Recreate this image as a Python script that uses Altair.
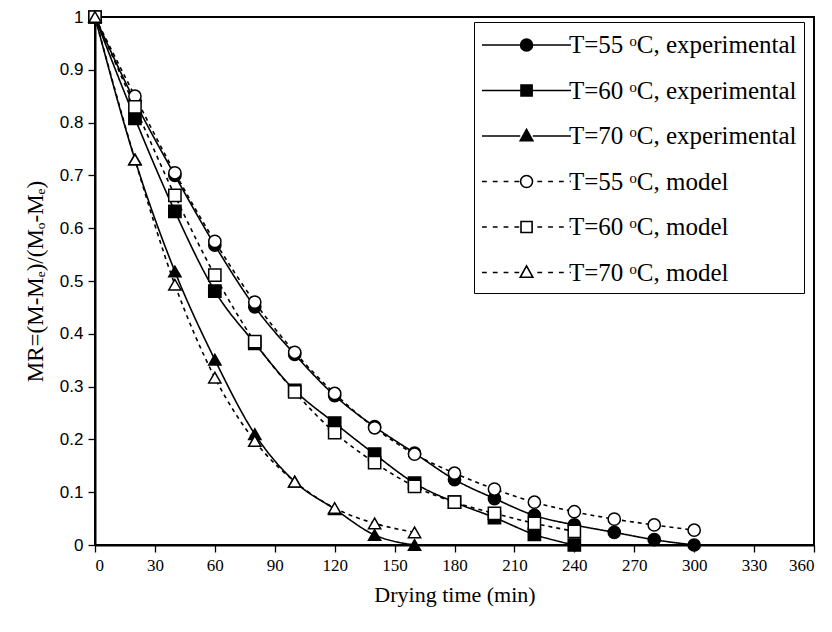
import altair as alt
import pandas as pd

t55 = [0, 20, 40, 60, 80, 100, 120, 140, 160, 180, 200, 220, 240, 260, 280, 300]
exp55 = [1, 0.84, 0.70, 0.568, 0.451, 0.361, 0.283, 0.224, 0.174, 0.124, 0.088, 0.056, 0.038, 0.024, 0.010, 0.0]
mod55 = [1, 0.85, 0.705, 0.575, 0.46, 0.365, 0.287, 0.222, 0.172, 0.136, 0.106, 0.081, 0.063, 0.049, 0.038, 0.028]

t60 = [0, 20, 40, 60, 80, 100, 120, 140, 160, 180, 200, 220, 240]
exp60 = [1, 0.808, 0.632, 0.481, 0.382, 0.293, 0.231, 0.172, 0.117, 0.081, 0.052, 0.020, 0.0]
mod60 = [1, 0.83, 0.662, 0.511, 0.385, 0.29, 0.213, 0.156, 0.111, 0.081, 0.060, 0.041, 0.026]

t70 = [0, 20, 40, 60, 80, 100, 120, 140, 160]
exp70 = [1, 0.73, 0.518, 0.351, 0.21, 0.12, 0.068, 0.019, 0.0]
mod70 = [1, 0.73, 0.493, 0.317, 0.197, 0.12, 0.07, 0.041, 0.024]

labels = [
    "T=55 ᵒC, experimental",
    "T=60 ᵒC, experimental",
    "T=70 ᵒC, experimental",
    "T=55 ᵒC, model",
    "T=60 ᵒC, model",
    "T=70 ᵒC, model",
]
kinds = ["exp", "exp", "exp", "model", "model", "model"]
series_t = [t55, t60, t70, t55, t60, t70]
series_v = [exp55, exp60, exp70, mod55, mod60, mod70]

rows = []
for lab, kind, ts, vs in zip(labels, kinds, series_t, series_v):
    for t, v in zip(ts, vs):
        rows.append({"time": t, "mr": v, "series": lab, "kind": kind, "legend": lab})
df = pd.DataFrame(rows)

# legend symbols: line + marker as custom paths (1 unit = 15 px)
X0, X1, C = -1.0, 4.93, 1.97   # line start, line end, marker centre
R = 0.42
def solid(marker):
    return f"M{X0},0H{C-R:.2f}M{C+R:.2f},0H{X1}" + marker
def dashed(marker):
    segs = ""
    x = X0
    while x < C - R - 0.2:
        segs += f"M{x:.2f},0H{x+0.32:.2f}"
        x += 0.72
    x = C + R + 0.3
    while x < X1:
        segs += f"M{x:.2f},0H{min(x+0.32, X1):.2f}"
        x += 0.72
    return segs + marker
circle = f"M{C+0.4:.2f},0A0.4,0.4 0 1 1 {C-0.4:.2f},0A0.4,0.4 0 1 1 {C+0.4:.2f},0Z"
square = f"M{C-0.37:.2f},-0.37H{C+0.37:.2f}V0.37H{C-0.37:.2f}Z"
tri = f"M{C:.2f},-0.44L{C+0.42:.2f},0.32H{C-0.42:.2f}Z"
legend_paths = [solid(circle), solid(square), solid(tri), dashed(circle), dashed(square), dashed(tri)]

fills = ["black", "black", "black", "white", "white", "white"]
strokes = ["black"] * 6
shapes = ["circle", "square", "triangle-up", "circle", "square", "triangle-up"]

serif = "Liberation Serif, DejaVu Serif, serif"

x_enc = alt.X("time:Q", scale=alt.Scale(domain=[0, 360], nice=False),
              axis=alt.Axis(values=list(range(0, 361, 30)), title="Drying time (min)"))
y_vals = [round(i / 10, 1) for i in range(11)]
y_enc = alt.Y("mr:Q", scale=alt.Scale(domain=[0, 1], nice=False),
              axis=alt.Axis(values=y_vals, format=".1~f", title="MR=(M-Mₑ)/(Mₒ-Mₑ)",
                            labelFont="Liberation Sans, Arial, sans-serif", labelFontSize=17))

lines = alt.Chart(df).mark_line(color="black", strokeWidth=1.6, interpolate="monotone").encode(
    x=x_enc, y=y_enc,
    detail="series:N",
    strokeDash=alt.StrokeDash("kind:N", scale=alt.Scale(domain=["exp", "model"], range=[[1, 0], [4, 4]]), legend=None),
)

points = alt.Chart(df).mark_point(size=150, stroke="black", strokeWidth=1.5, opacity=1, filled=False).encode(
    x="time:Q", y="mr:Q",
    shape=alt.Shape("series:N", scale=alt.Scale(domain=labels, range=shapes), legend=None),
    fill=alt.Fill("series:N", scale=alt.Scale(domain=labels, range=fills), legend=None),
)

def legend_def():
    return alt.Legend(title=None, orient="none", legendX=379, legendY=5,
                      symbolSize=900, symbolStrokeWidth=1.6,
                      symbolOpacity=1, labelFont=serif, labelFontSize=25,
                      labelColor="black", labelOffset=56, rowPadding=16.5,
                      padding=7, strokeColor="black", fillColor="white",
                      labelLimit=400)

leg = alt.Chart(df).mark_point(size=900, strokeWidth=1.6, opacity=0, filled=False).encode(
    x="time:Q", y="mr:Q",
    shape=alt.Shape("legend:N", scale=alt.Scale(domain=labels, range=legend_paths), legend=legend_def()),
    fill=alt.Fill("legend:N", scale=alt.Scale(domain=labels, range=fills), legend=legend_def()),
    stroke=alt.Stroke("legend:N", scale=alt.Scale(domain=labels, range=strokes), legend=legend_def()),
)

chart = alt.layer(lines, points, leg).resolve_scale(
    shape="independent", fill="independent", stroke="independent"
).properties(
    width=719, height=528,
    autosize=alt.AutoSizeParams(type="none"),
    padding={"left": 87, "top": 9, "right": 10, "bottom": 70},
).configure_view(
    stroke="black", strokeWidth=2
).configure_axis(
    domainColor="black", domainWidth=2, tickColor="black", tickWidth=1.3, tickSize=7,
    labelColor="black", titleColor="black", grid=False,
    labelFont=serif, labelFontSize=17, titleFont=serif, titleFontSize=23, titleFontWeight="normal",
    labelPadding=5,
).configure_axisY(titlePadding=12).configure_axisX(titlePadding=11, titleFontSize=22)

chart.save("out.html", embed_options={"renderer": "svg", "actions": False})
